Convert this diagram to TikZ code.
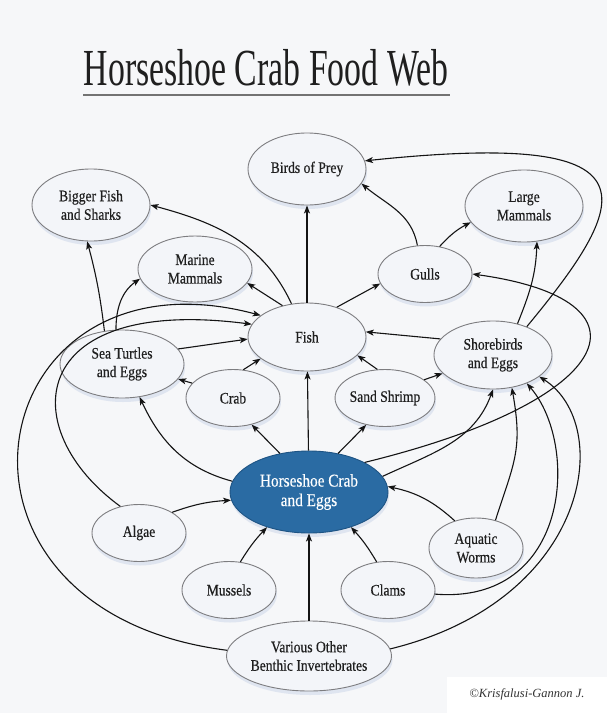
\documentclass[tikz,border=0pt]{standalone}
\usepackage{fontspec}
\setmainfont{Liberation Serif}
\newfontfamily\titlefont{Liberation Serif}[FakeStretch=0.65]
\newfontfamily\webfont{Liberation Serif}[FakeStretch=0.85,FakeBold=0.4]
\usetikzlibrary{arrows.meta, shapes.geometric, shadows}

\definecolor{paper}{RGB}{246,247,249}
\definecolor{bubble}{RGB}{243,245,249}
\definecolor{rim}{RGB}{125,125,128}
\definecolor{haze}{RGB}{208,217,234}
\definecolor{crabblue}{RGB}{42,107,163}
\definecolor{crabrim}{RGB}{30,84,132}

\tikzset{
  prey/.style={ellipse, draw=rim, fill=bubble, line width=0.9pt, inner sep=0pt,
    align=center, text=black!88, font=\webfont\fontsize{16}{18.5}\selectfont,
    drop shadow={shadow xshift=1pt, shadow yshift=-4pt, fill=haze, opacity=0.6}},
  bigbubble/.style={prey, minimum width=118pt, minimum height=72pt},
  smallbubble/.style={prey, minimum width=94pt, minimum height=57pt},
  eat/.style={->, line width=1.1pt, black!92},
}

\begin{document}
\begin{tikzpicture}[x=1pt, y=1pt, >={Stealth[length=8pt, width=6pt, inset=2pt]}]
  \useasboundingbox (0,0) rectangle (607,-713);
  \fill[paper] (0,0) rectangle (607,-713);
  \fill[white] (447,-677) rectangle (607,-713);

  % Title
  \node[anchor=base, text=black!88, font=\titlefont\fontsize{52}{56}\selectfont]
    (title) at (266,-85) {Horseshoe Crab Food Web};
  \draw[black!55, line width=1.1pt] (83,-95) -- (450,-95);

  % Top predators
  \node[bigbubble] (birds) at (307,-169) {Birds of Prey};
  \node[bigbubble] (bigfish) at (91,-205) {Bigger Fish\\and Sharks};
  \node[bigbubble] (mammals) at (524,-206) {Large\\Mammals};
  \node[bigbubble, minimum width=114pt, minimum height=66pt] (marine) at (195,-269) {Marine\\Mammals};
  \node[smallbubble] (gulls) at (425,-274) {Gulls};

  % Middle row
  \node[bigbubble, minimum height=68pt] (fish) at (307,-337) {Fish};
  \node[bigbubble, minimum width=124pt, minimum height=68pt] (turtles) at (122,-364) {Sea Turtles\\and Eggs};
  \node[bigbubble, minimum height=68pt] (shore) at (493,-355) {Shorebirds\\and Eggs};
  \node[smallbubble] (crab) at (233,-398) {Crab};
  \node[smallbubble] (shrimp) at (385,-398) {Sand Shrimp};

  % Horseshoe crab
  \node[prey, fill=crabblue, draw=crabrim, text=white, minimum width=158pt, minimum height=82pt,
    font=\webfont\fontsize{18}{19.5}\selectfont] (horse) at (309,-492) {Horseshoe Crab\\and Eggs};

  % Prey of the crab
  \node[smallbubble] (algae) at (139,-533) {Algae};
  \node[smallbubble, minimum height=60pt] (worms) at (476,-548) {Aquatic\\Worms};
  \node[smallbubble] (mussels) at (229,-590) {Mussels};
  \node[smallbubble] (clams) at (388,-590) {Clams};
  \node[bigbubble, minimum width=158pt, minimum height=70pt] (benthic) at (309,-656) {Various Other\\Benthic Invertebrates};

  % Straight arrows
  \foreach \a/\b in {fish/birds, horse/fish, benthic/horse,
      fish.128/marine.-15, fish.45/gulls.192, turtles.15/fish.182,
      crab.70/fish.205, crab.160/turtles.-15, shrimp.105/fish.-20,
      shrimp.25/shore.200, horse.127/crab.-55, horse.53/shrimp.-125,
      shore.163/fish.5}
    \draw[eat] (\a) -- (\b);

  % Bent arrows
  \draw[eat] (fish.115) to[out=115, in=-15] (bigfish.0);
  \draw[eat] (gulls.105) to[out=100, in=-40] (birds.-15);
  \draw[eat] (gulls.62) to[bend left=10] (mammals.197);
  \draw[eat] (shore.52) to[out=68, in=-92] (mammals.-70);
  \draw[eat] (turtles.118) to[bend right=4] (bigfish.-96);
  \draw[eat] (turtles.100) to[out=90, in=215] (marine.190);
  \draw[eat] (horse.172) to[out=165, in=-65] (turtles.-62);
  \draw[eat] (horse.12) to[out=25, in=-110] (shore.-90);
  \draw[eat] (algae.32) to[bend left=8] (horse.186);
  \draw[eat] (mussels.68) to[bend left=6] (horse.-140);
  \draw[eat] (clams.112) to[bend right=6] (horse.-40);
  \draw[eat] (worms.128) to[bend right=15] (horse.4);
  \draw[eat] (worms.55) to[out=72, in=-80, looseness=1.2] (shore.-60);

  % Long loops
  \draw[eat] (shore.40) .. controls (636,-195) and (658,-130) .. (birds.8);
  \draw[eat] (horse.28) .. controls (620,-400) and (660,-300) .. (gulls.0);
  \draw[eat] (algae.125) .. controls (15,-430) and (25,-295) .. (fish.167);
  \draw[eat] (benthic.176) .. controls (-90,-610) and (-20,-240) .. (fish.155);
  \draw[eat] (clams.-5) .. controls (570,-605) and (580,-445) .. (shore.-40);
  \draw[eat] (benthic.5) .. controls (590,-600) and (615,-425) .. (shore.-25);

  % Credit
  \node[text=black!80, font=\itshape\fontsize{12.5}{14}\selectfont] (credit) at (527,-694) {©Krisfalusi-Gannon J.};
\end{tikzpicture}
\end{document}
